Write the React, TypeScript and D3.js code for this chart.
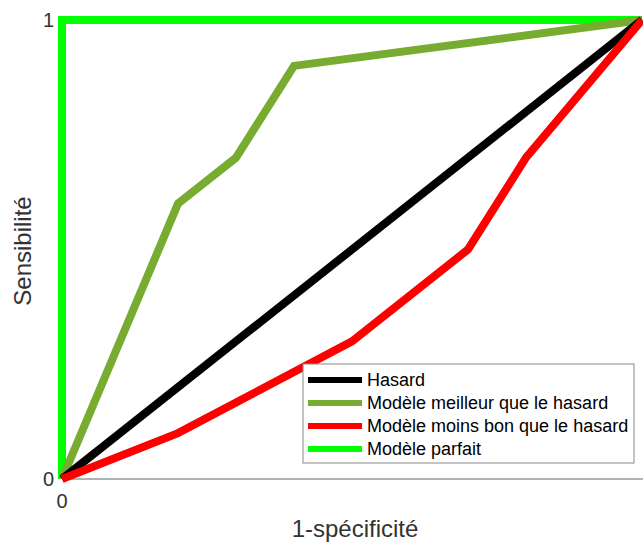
import React from "react";
import * as d3 from "d3";

const fpr = [0, 1];
const hasardTpr = [0, 1];
const betterFpr = [0, 0.2, 0.3, 0.4, 1];
const betterTpr = [0, 0.6, 0.7, 0.9, 1];
const worseFpr = [0, 0.2, 0.5, 0.7, 0.8, 1];
const worseTpr = [0, 0.1, 0.3, 0.5, 0.7, 1];
const perfectFpr = [0, 0, 1];
const perfectTpr = [0, 1, 1];
const xTicks = [0];
const yTicks = [0, 1];
const legendLabels = [
  "Hasard",
  "Modèle meilleur que le hasard",
  "Modèle moins bon que le hasard",
  "Modèle parfait",
];
const legendColors = ["#000000", "#77AC30", "#FF0000", "#00FF00"];

const W = 643;
const H = 544;

export default function App() {
  const x = d3.scaleLinear().domain([0, 1]).range([62, 642]);
  const y = d3.scaleLinear().domain([0, 1]).range([479, 20]);
  const line = d3
    .line<[number, number]>()
    .x((d) => x(d[0]))
    .y((d) => y(d[1]));
  const zip = (a: number[], b: number[]) =>
    a.map((v, i) => [v, b[i]] as [number, number]);

  const series = [
    { xs: perfectFpr, ys: perfectTpr, color: legendColors[3] },
    { xs: betterFpr, ys: betterTpr, color: legendColors[1] },
    { xs: fpr, ys: hasardTpr, color: legendColors[0] },
    { xs: worseFpr, ys: worseTpr, color: legendColors[2] },
  ];

  const font = "'Liberation Sans', Arial, sans-serif";
  const lx = 303;
  const ly = 364;
  const lw = 331;
  const lh = 99;

  return (
    <svg
      width={W}
      height={H}
      style={{ position: "absolute", left: 0, top: 0, background: "#fff" }}
      fontFamily={font}
    >
      <rect x={0} y={0} width={W} height={H} fill="#fff" />
      <line x1={x(0)} x2={W} y1={y(0)} y2={y(0)} stroke="#999" strokeWidth={1.5} />
      {series.map((s, i) => (
        <path
          key={i}
          d={line(zip(s.xs, s.ys)) || ""}
          fill="none"
          stroke={s.color}
          strokeWidth={8}
          strokeLinejoin="miter"
        />
      ))}
      {yTicks.map((t) => (
        <text
          key={"y" + t}
          x={x(0) - 8}
          y={y(t)}
          dy="0.36em"
          textAnchor="end"
          fontSize={20}
          fill="#333"
        >
          {t}
        </text>
      ))}
      {xTicks.map((t) => (
        <text
          key={"x" + t}
          x={x(t)}
          y={y(0) + 29}
          textAnchor="middle"
          fontSize={20}
          fill="#333"
        >
          {t}
        </text>
      ))}
      <text
        x={355}
        y={537}
        textAnchor="middle"
        fontSize={24}
        fill="#333"
      >
        1-spécificité
      </text>
      <text
        transform={`translate(31,251) rotate(-90)`}
        textAnchor="middle"
        fontSize={24}
        fill="#333"
      >
        Sensibilité
      </text>
      <rect
        x={lx}
        y={ly}
        width={lw}
        height={lh}
        fill="#fff"
        stroke="#888"
        strokeWidth={1}
      />
      {legendLabels.map((lab, i) => (
        <g key={lab}>
          <line
            x1={lx + 5}
            x2={lx + 59}
            y1={ly + 16 + i * 23}
            y2={ly + 16 + i * 23}
            stroke={legendColors[i]}
            strokeWidth={6}
          />
          <text
            x={lx + 64}
            y={ly + 16 + i * 23}
            dy="0.36em"
            fontSize={18}
            fill="#000"
          >
            {lab}
          </text>
        </g>
      ))}
    </svg>
  );
}
